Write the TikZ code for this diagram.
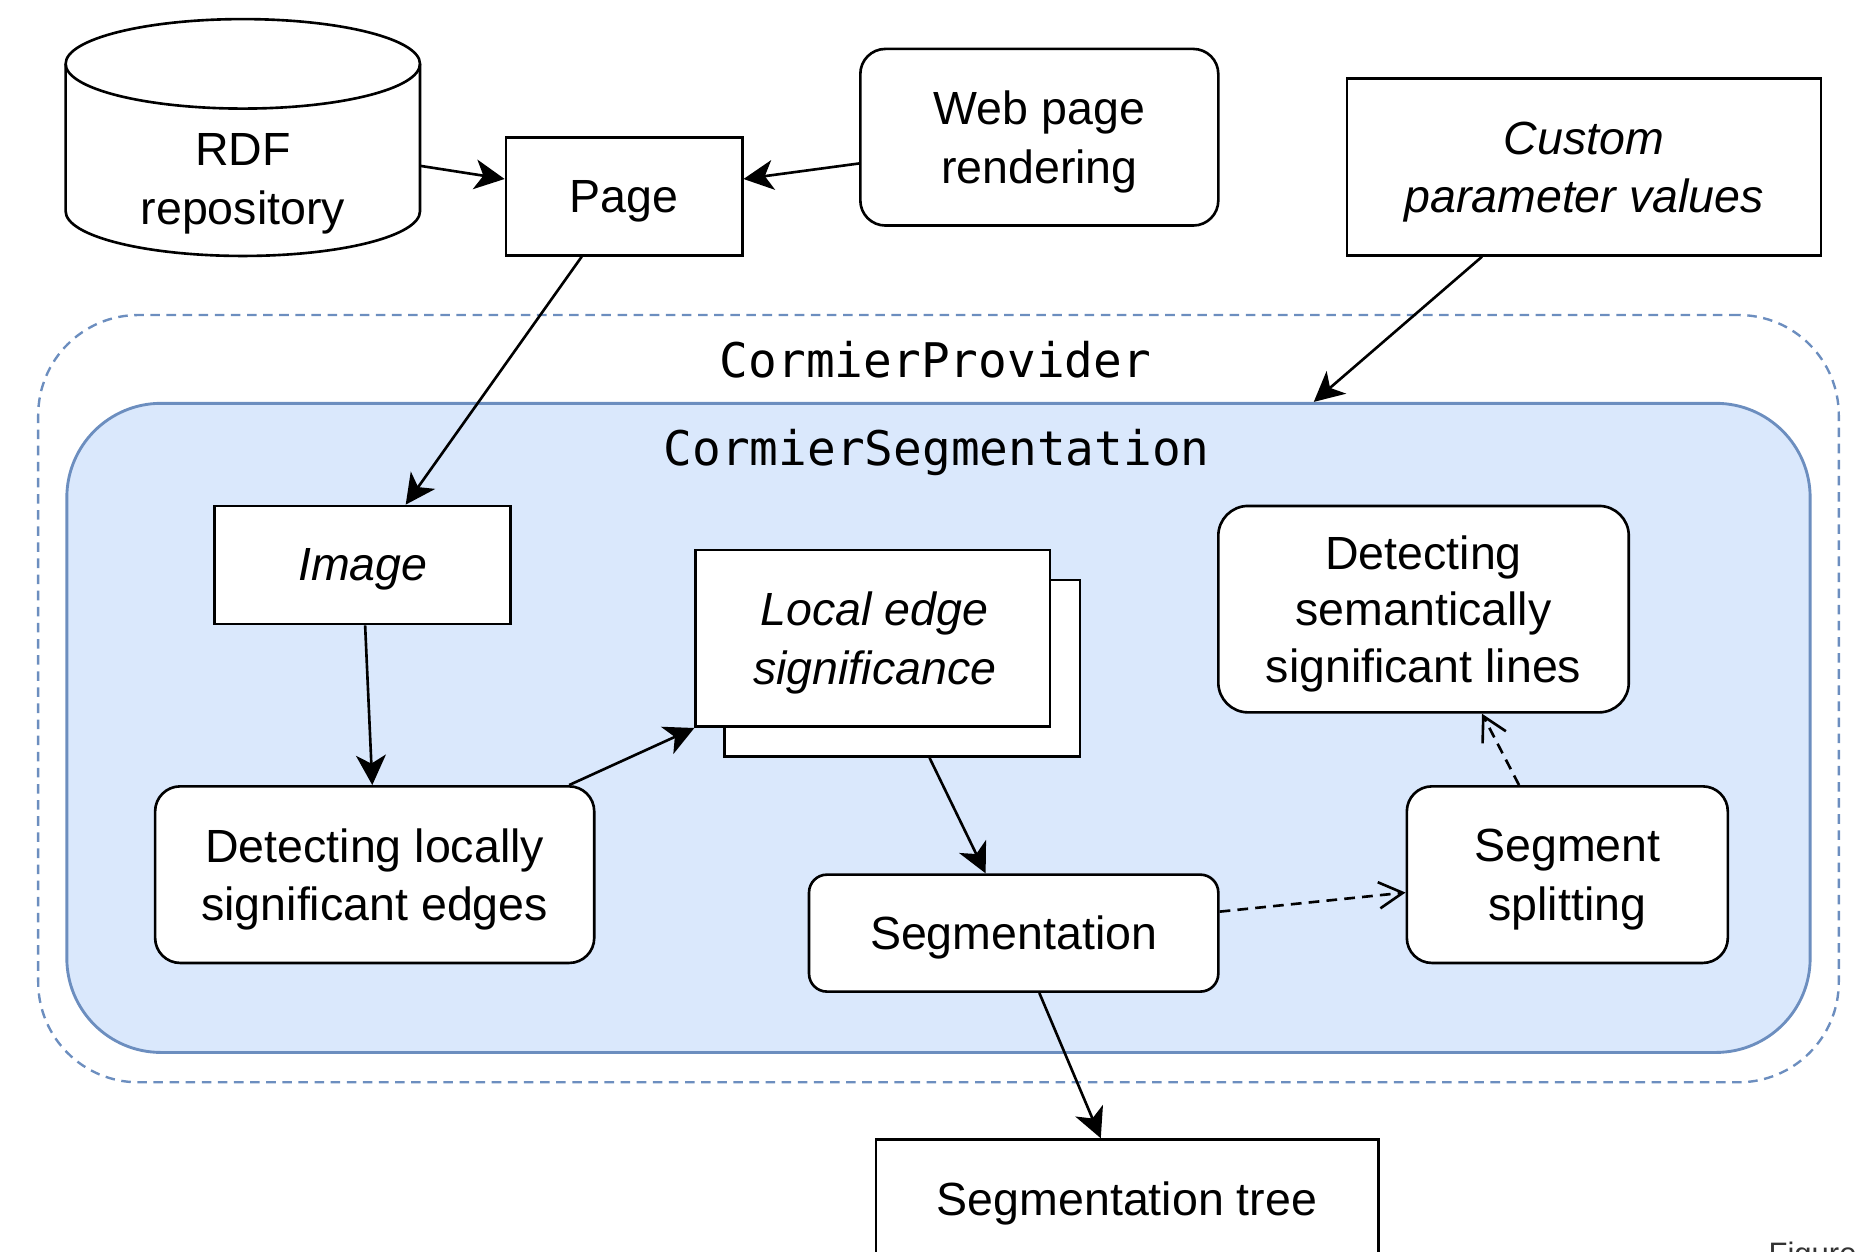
\documentclass[tikz,border=0pt]{standalone}
\usepackage{fontspec}
\setmainfont{Liberation Sans}
\newfontfamily\codefont{DejaVu Sans Mono}
\usetikzlibrary{arrows.meta}
\newcommand\lbfont{\fontsize{39}{49}\selectfont}
\newcommand\lbfonttight{\fontsize{39}{47}\selectfont}
\definecolor{lanefill}{HTML}{DAE8FC}
\definecolor{lanedraw}{HTML}{6C8EBF}
\definecolor{notegray}{HTML}{333333}

\tikzset{
  edgebox/.style={draw, line width=2.2pt, fill=white, inner sep=0pt},
  roundbox/.style={edgebox, rounded corners=21pt},
  lbl/.style={font=\lbfont, align=center, inner sep=0pt, yshift=-4pt},
  ilbl/.style={lbl, font=\lbfont\itshape},
  flow/.style={line width=2.2pt, -{Stealth[length=25pt,width=25pt,inset=7pt]}},
  hint/.style={line width=2.2pt, dash pattern=on 9pt off 6pt,
    -{Straight Barb[length=20pt,width=22pt]}},
  lanelabel/.style={font=\codefont\fontsize{40}{48}\selectfont, inner sep=0pt, anchor=base},
}

\begin{document}
\begin{tikzpicture}[x=1pt, y=1pt]
\useasboundingbox (0,0) rectangle (1568,-1049);

% outer provider frame and inner segmentation lane
\node[draw=lanedraw, line width=2pt, dash pattern=on 8pt off 5.5pt,
      rounded corners=84pt, minimum width=1509pt, minimum height=643pt, inner sep=0pt]
  (provider) at (786.5,-585.5) {};
\node[draw=lanedraw, fill=lanefill, line width=2.4pt, rounded corners=79pt,
      minimum width=1461pt, minimum height=544pt, inner sep=0pt]
  (segc) at (786.5,-610) {};
\node[lanelabel] (providerlbl) at (784,-316) {CormierProvider};
\node[lanelabel] (segclbl) at (785,-390) {CormierSegmentation};

% RDF repository cylinder
\node[inner sep=0pt, minimum width=297pt, minimum height=198.5pt] (rdf) at (203.5,-115.5) {};
\draw[line width=2.2pt, fill=white]
  (55,-53.5) -- (55,-177) arc[start angle=180, end angle=360, x radius=148.5, y radius=37.5]
  -- (352,-53.5) arc[start angle=0, end angle=180, x radius=148.5, y radius=37.5] -- cycle;
\draw[line width=2.2pt] (55,-53.5) arc[start angle=180, end angle=360, x radius=148.5, y radius=37.5];
\node[lbl] (rdflbl) at (203.5,-150) {RDF\\repository};

% top row
\node[edgebox, minimum width=198pt, minimum height=99pt] (page) at (523,-164.5) {};
\node[lbl] at (page) {Page};
\node[roundbox, minimum width=300pt, minimum height=148pt] (web) at (871,-115) {};
\node[lbl] at (web) {Web page\\rendering};
\node[edgebox, minimum width=397pt, minimum height=148pt] (custom) at (1327.5,-140) {};
\node[ilbl] at (custom) {Custom\\parameter values};

% inside the segmentation lane
\node[edgebox, minimum width=248pt, minimum height=99pt] (image) at (304,-473.5) {};
\node[ilbl] at (image) {Image};
\node[roundbox, minimum width=368pt, minimum height=148pt] (detl) at (314,-733) {};
\node[lbl] at (detl) {Detecting locally\\significant edges};
\node[edgebox, minimum width=298pt, minimum height=148pt] (lesback) at (756,-560) {};
\node[edgebox, minimum width=297pt, minimum height=148pt] (les) at (731.5,-535) {};
\node[ilbl] at ([xshift=1.5pt]les.center) {Local edge\\significance};
\node[roundbox, rounded corners=25pt, minimum width=344pt, minimum height=173pt] (sem) at (1193,-510.5) {};
\node[lbl, font=\lbfonttight] at (sem) {Detecting\\semantically\\significant lines};
\node[roundbox, minimum width=269pt, minimum height=148pt] (split) at (1313.5,-733) {};
\node[lbl] at (split) {Segment\\splitting};
\node[roundbox, rounded corners=15pt, minimum width=343pt, minimum height=98pt] (segm) at (849.5,-782) {};
\node[lbl] at (segm) {Segmentation};

% result below the frame
\node[edgebox, minimum width=421pt, minimum height=99pt] (tree) at (944.5,-1004.5) {};
\node[lbl] at (tree) {Segmentation tree};
\node[font=\fontsize{26}{30}\selectfont, text=notegray, anchor=base west, inner sep=0pt]
  (figlbl) at (1482,-1060) {Figure};

% connectors
\draw[flow] ([yshift=-23.5pt]rdf.east) -- ([yshift=14.5pt]page.west);
\draw[flow] ([yshift=-22pt]web.west) -- ([yshift=14.5pt]page.east);
\draw[flow] ([xshift=-35.5pt]page.south) -- ([xshift=36pt]image.north);
\draw[flow] ([xshift=-85.5pt]custom.south) -- ([xshift=314.5pt]segc.north);
\draw[flow] ([xshift=2pt]image.south) -- ([xshift=-2pt]detl.north);
\draw[flow] ([xshift=163pt]detl.north) -- (les.south west);
\draw[flow] ([xshift=23pt]lesback.south) -- ([xshift=-23.5pt]segm.north);
\draw[flow] ([xshift=21.5pt]segm.south) -- ([xshift=-22pt]tree.north);
\draw[hint] ([yshift=18pt]segm.east) -- ([yshift=-15pt]split.west);
\draw[hint] ([xshift=-40.5pt]split.north) -- ([xshift=49pt]sem.south);
\end{tikzpicture}
\end{document}
